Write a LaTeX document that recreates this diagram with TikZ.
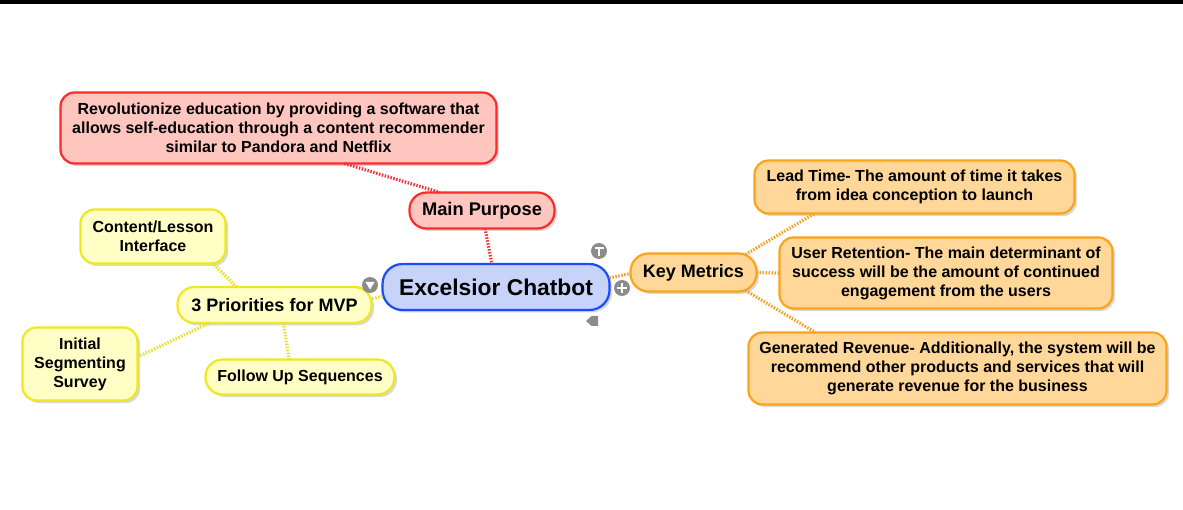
\documentclass[tikz,border=0pt]{standalone}
\usepackage{fontspec}
\setmainfont{Liberation Sans}
\usetikzlibrary{shadows,calc}
\definecolor{redB}{HTML}{FF2A2A}
\definecolor{redF}{HTML}{FFC6C0}
\definecolor{redL}{HTML}{F2323C}
\definecolor{blueB}{HTML}{1A4BFF}
\definecolor{blueF}{HTML}{C8D3FA}
\definecolor{orB}{HTML}{FAA41A}
\definecolor{orF}{HTML}{FFD799}
\definecolor{orL}{HTML}{F5A224}
\definecolor{yeB}{HTML}{F0E81E}
\definecolor{yeF}{HTML}{FFFFC6}
\definecolor{yeL}{HTML}{E8DF30}
\definecolor{iconG}{HTML}{8C8C8C}
\tikzset{
  box/.style={draw, rounded corners=14pt, line width=2.2pt, align=center,
    inner sep=0pt, outer sep=0pt,
    drop shadow={opacity=0.3, shadow xshift=2.5pt, shadow yshift=-2.5pt},
    font=\fontsize{16}{19}\selectfont\bfseries},
  redbox/.style={box, draw=redB, fill=redF},
  bluebox/.style={box, draw=blueB, fill=blueF, rounded corners=20pt},
  orbox/.style={box, draw=orB, fill=orF},
  yebox/.style={box, draw=yeB, fill=yeF},
  link/.style={line width=3.2pt, dash pattern=on 1.5pt off 1.5pt},
  icon/.style={fill=iconG, draw=none},
}
\begin{document}
\begin{tikzpicture}[x=1pt,y=-1pt]
\useasboundingbox (0,0) rectangle (1183,510);
\fill[white] (0,0) rectangle (1183,510);
\fill[black] (0,0) rectangle (1183,4);

% nodes
\node[redbox, minimum width=436pt, minimum height=71pt] (rev) at (278.5,128)
  {Revolutionize education by providing a software that\\allows self-education through a content recommender\\similar to Pandora and Netflix};
\node[redbox, minimum width=145pt, minimum height=36pt, rounded corners=17pt,
  font=\fontsize{18.3}{21}\selectfont\bfseries] (mp) at (482,210.5) {Main Purpose};
\node[bluebox, minimum width=227pt, minimum height=46pt,
  font=\fontsize{22.8}{26}\selectfont\bfseries] (ex) at (496,287) {Excelsior Chatbot};
\node[orbox, minimum width=126pt, minimum height=38pt, rounded corners=18pt,
  font=\fontsize{18}{20}\selectfont\bfseries] (km) at (693.5,272.5) {Key Metrics};
\node[orbox, minimum width=320pt, minimum height=53pt] (lt) at (914.5,187)
  {Lead Time- The amount of time it takes\\from idea conception to launch};
\node[orbox, minimum width=333pt, minimum height=71pt] (ur) at (946,273)
  {User Retention- The main determinant of\\success will be the amount of continued\\engagement from the users};
\node[orbox, minimum width=418pt, minimum height=72pt] (gr) at (957.5,368.5)
  {Generated Revenue- Additionally, the system will be\\recommend other products and services that will\\generate revenue for the business};
\node[yebox, minimum width=194pt, minimum height=36pt, rounded corners=17pt,
  font=\fontsize{18}{20}\selectfont\bfseries] (pr) at (274.5,305) {3 Priorities for MVP};
\node[yebox, minimum width=145pt, minimum height=54pt] (cl) at (153,236.5)
  {Content/Lesson\\Interface};
\node[yebox, minimum width=115pt, minimum height=73pt] (is) at (80,364)
  {Initial\\Segmenting\\Survey};
\node[yebox, minimum width=189pt, minimum height=35pt, rounded corners=17pt] (fu) at (300,377)
  {Follow Up Sequences};

% connectors
\draw[link, redL] ($(rev.south)+(66,0)$) -- ($(mp.north)+(-42,0)$);
\draw[link, redL] ($(mp.south)+(3,0)$) -- ($(ex.north)+(-4,0)$);
\draw[link, orL] ($(ex.east)+(0,-9)$) -- ($(km.west)+(0,1)$);
\draw[link, orL] ($(km.north)+(52,1)$) -- ($(lt.south)+(-100,0)$);
\draw[link, orL] (km.east) -- (ur.west);
\draw[link, orL] ($(km.south)+(52,-1)$) -- ($(gr.north)+(-142,0)$);
\draw[link, yeL] ($(ex.west)+(0,9)$) -- ($(pr.east)+(0,-6)$);
\draw[link, yeL] ($(pr.north)+(-38,0)$) -- ($(cl.south)+(60,0)$);
\draw[link, yeL] ($(pr.south)+(-65,0)$) -- ($(is.east)+(0,-7)$);
\draw[link, yeL] ($(pr.south)+(9,0)$) -- ($(fu.north)+(-11,0)$);

% control icons
\fill[icon] (599,251) circle (8);
\fill[white] (594.5,247) rectangle (603.5,249.5);
\fill[white] (597.8,247) rectangle (600.2,256);
\fill[icon] (622,288) circle (8);
\fill[white] (617,287) rectangle (627,289);
\fill[white] (621,283) rectangle (623,293);
\fill[icon] (370,285) circle (8);
\fill[white] (365.5,282) -- (374.5,282) -- (370,289.5) -- cycle;
\fill[icon] (586,321) -- (591.5,316) -- (598,316) -- (598,326) -- (591.5,326) -- cycle;
\end{tikzpicture}
\end{document}
